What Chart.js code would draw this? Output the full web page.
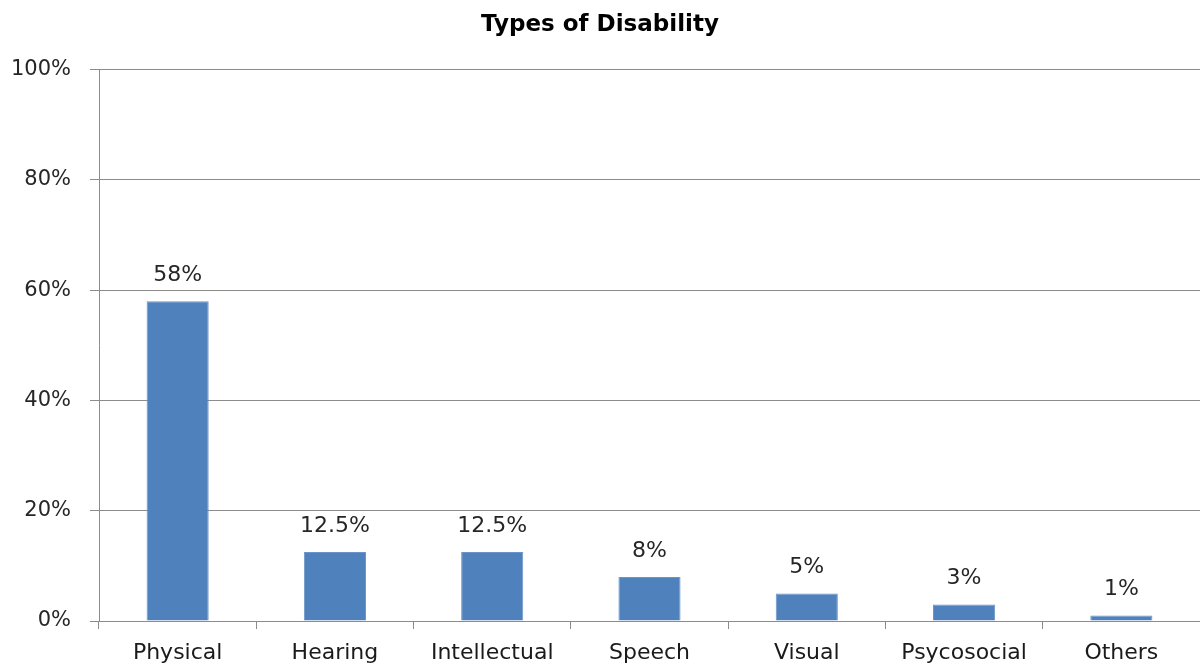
<!DOCTYPE html>
<html>
<head>
<meta charset="utf-8">
<script src="https://cdn.jsdelivr.net/npm/chart.js@4"></script>
<style>
  html, body { margin: 0; padding: 0; background: #fff; overflow: hidden; }
  #wrap { width: 1200px; height: 666px; }
</style>
</head>
<body>
<div id="wrap"><canvas id="disability_chart"></canvas></div>
<script>
const categories = ['Physical', 'Hearing', 'Intellectual', 'Speech', 'Visual', 'Psycosocial', 'Others'];
const percentValues = [58, 12.5, 12.5, 8, 5, 3, 1];
const yTicks = [0, 20, 40, 60, 80, 100];

// value labels drawn above each bar
const barValueLabels = {
    id: 'barValueLabels',
    afterDatasetsDraw(chart) {
        const ctx = chart.ctx;
        const meta = chart.getDatasetMeta(0);
        ctx.save();
        ctx.font = '22px "DejaVu Sans"';
        ctx.fillStyle = '#262626';
        ctx.textAlign = 'center';
        ctx.textBaseline = 'middle';
        meta.data.forEach(function (bar, i) {
            ctx.fillText(percentValues[i] + '%', bar.x, bar.y - 26);
        });
        ctx.restore();
    }
};

var ctx = document.getElementById('disability_chart');

var disability_chart = new Chart(ctx, {
    type: 'bar',
    data: {
        labels: categories,
        datasets: [{
            data: percentValues,
            backgroundColor: '#4F81BD',
            borderColor: '#6b95c8',
            borderWidth: 1,
            barPercentage: 0.395,
            categoryPercentage: 1
        }]
    },
    options: {
        responsive: true,
        maintainAspectRatio: false,
        animation: false,
        layout: { padding: { left: 0, right: 0, top: 0, bottom: 0 } },
        plugins: {
            legend: { display: false },
            tooltip: { enabled: false },
            title: {
                display: true,
                text: 'Types of Disability',
                color: '#000000',
                font: { family: '"DejaVu Sans"', size: 23, weight: 'bold' },
                padding: { top: 11, bottom: 31 }
            }
        },
        scales: {
            x: {
                afterFit: function (scale) { scale.height = 45; },
                grid: {
                    offset: true,
                    drawOnChartArea: false,
                    drawTicks: true,
                    tickLength: 8,
                    color: '#8c8c8c'
                },
                border: { color: '#8c8c8c' },
                ticks: {
                    color: '#1a1a1a',
                    font: { family: '"DejaVu Sans"', size: 22 },
                    padding: 11,
                    maxRotation: 0
                }
            },
            y: {
                min: 0,
                max: 100,
                afterFit: function (scale) { scale.width = 99; },
                afterBuildTicks: function (scale) {
                    scale.ticks = yTicks.map(function (v) { return { value: v }; });
                },
                grid: {
                    color: '#8c8c8c',
                    tickLength: 9
                },
                border: { color: '#8c8c8c' },
                ticks: {
                    color: '#262626',
                    font: { family: '"DejaVu Sans"', size: 21 },
                    padding: 19,
                    callback: function (v) { return v + '%'; }
                }
            }
        }
    },
    plugins: [barValueLabels]
});
</script>
</body>
</html>
